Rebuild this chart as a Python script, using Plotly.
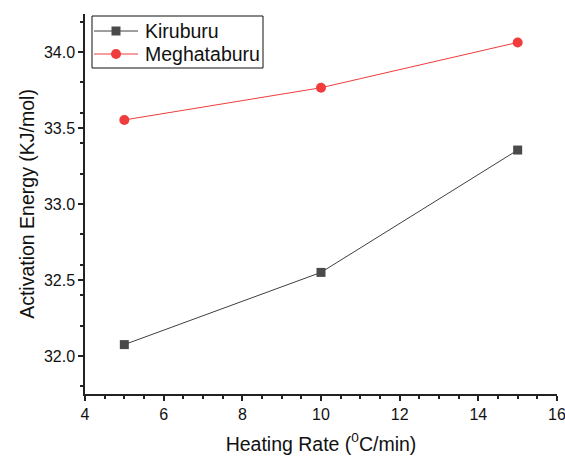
import plotly.graph_objects as go

heating_rate = [5, 10, 15]
kiruburu = [32.075, 32.55, 33.355]
meghataburu = [33.553, 33.765, 34.063]
series_names = ["Kiruburu", "Meghataburu"]
series_colors = ["#4a4a4a", "#f03c3c"]
line_colors = ["#3f3f3f", "#f03c3c"]

FONT = "Arial, Liberation Sans, sans-serif"
W, H = 565, 457
ML, MR, MT, MB = 85, 8, 14, 63
PW, PH = W - ML - MR, H - MT - MB

def px_x(p):  # pixel x -> paper x
    return (p - ML) / PW

def px_y(p):  # pixel y -> paper y
    return (H - MB - p) / PH

fig = go.Figure()
fig.add_trace(go.Scatter(
    x=heating_rate, y=kiruburu, name=series_names[0], mode="lines+markers",
    line=dict(color=line_colors[0], width=1),
    marker=dict(symbol="square", size=9, color=series_colors[0]),
    showlegend=False,
))
fig.add_trace(go.Scatter(
    x=heating_rate, y=meghataburu, name=series_names[1], mode="lines+markers",
    line=dict(color=line_colors[1], width=1),
    marker=dict(symbol="circle", size=10, color=series_colors[1]),
    showlegend=False,
))

axis_common = dict(
    showline=True, linecolor="#222", linewidth=1.5, mirror=False,
    showgrid=False, zeroline=False, ticks="outside", ticklen=5, tickwidth=1.5,
    tickcolor="#222", tickfont=dict(family=FONT, size=16, color="#111"),
    minor=dict(ticks="outside", ticklen=3, tickwidth=1.5, tickcolor="#222"),
    automargin=False, ticklabeloverflow="allow",
)

# manual legend (box, swatches, labels)
shapes = [dict(type="rect", xref="paper", yref="paper",
               x0=px_x(92), x1=px_x(263), y0=px_y(68), y1=px_y(16),
               line=dict(color="#111", width=1), fillcolor="white", layer="above")]
annotations = []
rows = [31, 54]
for i, (name, yc) in enumerate(zip(series_names, rows)):
    shapes.append(dict(type="line", xref="paper", yref="paper",
                       x0=px_x(94), x1=px_x(138), y0=px_y(yc), y1=px_y(yc),
                       line=dict(color=line_colors[i], width=1), layer="above"))
    r = 4.5 if i == 0 else 5
    shapes.append(dict(type="rect" if i == 0 else "circle", xref="paper", yref="paper",
                       x0=px_x(116 - r), x1=px_x(116 + r), y0=px_y(yc + r), y1=px_y(yc - r),
                       line=dict(width=0), fillcolor=series_colors[i], layer="above"))
    annotations.append(dict(text=name, xref="paper", yref="paper",
                            x=px_x(143), y=px_y(yc), xanchor="left", yanchor="middle",
                            showarrow=False, font=dict(family=FONT, size=19.5, color="#111")))

fig.update_layout(
    width=W, height=H,
    margin=dict(l=ML, r=MR, t=MT, b=MB),
    paper_bgcolor="white", plot_bgcolor="white",
    font=dict(family=FONT, color="#111"),
    xaxis=dict(range=[4, 16], tickvals=[4, 6, 8, 10, 12, 14, 16],
               title=dict(text="Heating Rate (<sup>0</sup>C/min)", font=dict(size=19.5), standoff=15),
               **axis_common),
    yaxis=dict(range=[31.75, 34.25], tickvals=[32.0, 32.5, 33.0, 33.5, 34.0],
               tickformat=".1f",
               title=dict(text="Activation Energy (KJ/mol)", font=dict(size=19.5), standoff=4),
               **axis_common),
    shapes=shapes,
    annotations=annotations,
    showlegend=False,
)

fig.write_html("out.html")
